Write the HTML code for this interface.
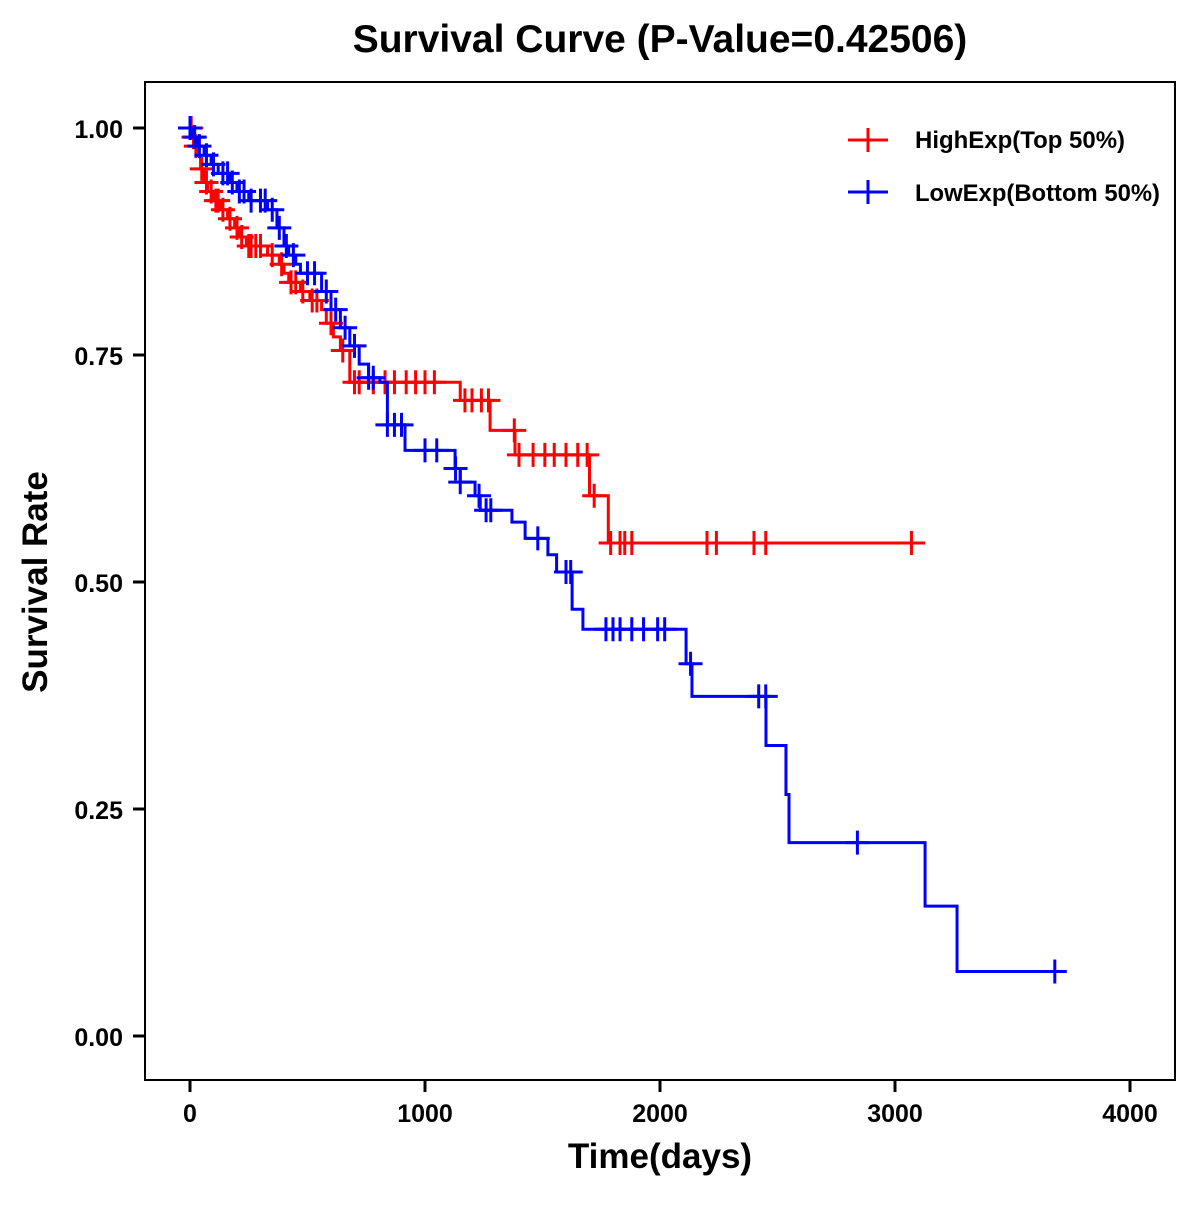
<!DOCTYPE html>
<html><head><meta charset="utf-8"><style>
body{margin:0;background:#fff;}
svg text{font-family:"Liberation Sans",Arial,sans-serif;font-weight:bold;}
</style></head><body>
<svg id="chart" width="1200" height="1200" viewBox="0 0 1200 1200">
<rect width="1200" height="1200" fill="#fff"/>
<text x="660" y="52" font-size="39" text-anchor="middle">Survival Curve (P-Value=0.42506)</text>
<rect x="145" y="82" width="1030" height="998" fill="none" stroke="#000" stroke-width="2"/>
<g id="axes"></g>
<g id="series"></g>
<text x="660" y="1168" font-size="35" text-anchor="middle">Time(days)</text>
<text x="47" y="582" font-size="35" text-anchor="middle" transform="rotate(-90 47 582)">Survival Rate</text>
<g>
<g>
<line x1="848" y1="140" x2="888" y2="140" stroke="#f00" stroke-width="3"/><line x1="868" y1="128" x2="868" y2="152" stroke="#f00" stroke-width="3"/>
<text x="915" y="148" font-size="24" textLength="210" lengthAdjust="spacingAndGlyphs">HighExp(Top 50%)</text></g>
<g>
<line x1="848" y1="192" x2="888" y2="192" stroke="#00f" stroke-width="3"/><line x1="868" y1="180" x2="868" y2="204" stroke="#00f" stroke-width="3"/>
<text x="915" y="201" font-size="24" textLength="245" lengthAdjust="spacingAndGlyphs">LowExp(Bottom 50%)</text></g>
</g>
</svg>
<script>
const xTicks=[0,1000,2000,3000,4000];
const yTicks=[0,0.25,0.5,0.75,1.0];
const yTickLabels=["0.00","0.25","0.50","0.75","1.00"];
const highTimes=[0,10,20,30,45,60,75,100,130,160,190,210,240,330,380,400,420,470,510,560,580,610,640,680,1150,1277,1383,1700,1780];
const highSurv=[1.0,0.99,0.98,0.97,0.955,0.94,0.93,0.92,0.91,0.90,0.89,0.88,0.87,0.86,0.85,0.84,0.83,0.82,0.81,0.80,0.785,0.77,0.755,0.72,0.70,0.667,0.64,0.595,0.543];
const highEnd=3128;
const highCensor=[5,15,25,50,70,90,110,120,140,170,200,220,250,260,280,300,350,390,430,450,480,520,540,600,650,700,720,780,830,870,920,960,1000,1040,1170,1200,1240,1270,1380,1400,1460,1510,1550,1600,1650,1690,1720,1790,1830,1850,1880,2200,2240,2400,2450,3070];
const lowTimes=[0,10,30,60,90,120,170,200,250,330,370,400,420,450,470,560,600,640,680,720,760,808,840,915,1128,1150,1213,1235,1370,1426,1523,1560,1626,1672,2111,2136,2451,2536,2549,3128,3264];
const lowSurv=[1.0,0.99,0.98,0.97,0.96,0.95,0.94,0.93,0.92,0.91,0.89,0.87,0.86,0.85,0.84,0.82,0.80,0.78,0.76,0.74,0.725,0.72,0.673,0.645,0.625,0.61,0.595,0.579,0.566,0.548,0.53,0.511,0.47,0.448,0.41,0.374,0.32,0.266,0.213,0.143,0.071];
const lowEnd=3680;
const lowCensor=[0,20,40,70,100,140,160,180,210,230,260,300,320,350,380,410,440,500,530,580,620,660,700,760,780,840,870,900,1000,1050,1130,1150,1230,1260,1280,1480,1600,1620,1770,1800,1830,1880,1930,1990,2020,2130,2420,2450,2840,3680];

const X=t=>190+t*0.235;
const Y=s=>1036-s*908;
const NS="http://www.w3.org/2000/svg";
function mk(tag,attrs,parent){const e=document.createElementNS(NS,tag);for(const k in attrs)e.setAttribute(k,attrs[k]);parent.appendChild(e);return e;}
const axes=document.getElementById('axes');
xTicks.forEach(t=>{
  const l=mk('line',{x1:X(t),x2:X(t),y1:1080,y2:1092,stroke:'#000','stroke-width':3},axes);
  
  
  const tx=mk('text',{x:X(t),y:1122,'font-size':25,'text-anchor':'middle'},axes);tx.textContent=t;
  
  
});
yTicks.forEach((v,i)=>{
  const l=mk('line',{x1:133,x2:145,y1:Y(v),y2:Y(v),stroke:'#000','stroke-width':3},axes);
  
  
  const tx=mk('text',{x:123,y:Y(v)+10,'font-size':25,'text-anchor':'end'},axes);tx.textContent=yTickLabels[i];
  
  
});
function survAt(times,surv,t){let s=surv[0];for(let i=0;i<times.length;i++){if(times[i]<=t)s=surv[i];}return s;}
function draw(times,surv,end,cens,color,name){
  const g=mk('g',{},document.getElementById('series'));
  
  
  let d='M'+X(times[0])+' '+Y(surv[0]);
  for(let i=1;i<times.length;i++){d+=' H'+X(times[i])+' V'+Y(surv[i]);}
  d+=' H'+X(end);
  const p=mk('path',{d:d,fill:'none',stroke:color,'stroke-width':3},g);
  
  
  cens.forEach(t=>{
    const cx=X(t),cy=Y(survAt(times,surv,t));
    const m=mk('path',{d:`M${cx-12} ${cy} H${cx+12} M${cx} ${cy-12} V${cy+12}`,stroke:color,'stroke-width':3,fill:'none'},g);
    
    
  });
}
draw(highTimes,highSurv,highEnd,highCensor,'#f00','high-exp');
draw(lowTimes,lowSurv,lowEnd,lowCensor,'#00f','low-exp');
</script>
</body></html>
